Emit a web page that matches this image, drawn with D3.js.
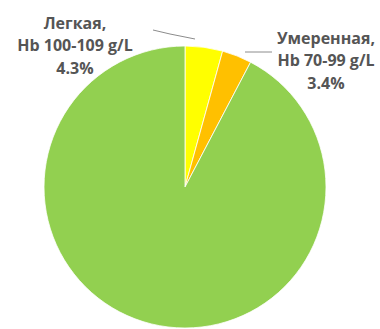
<!DOCTYPE html>
<html>
<head>
<meta charset="utf-8">
<script src="https://cdn.jsdelivr.net/npm/d3@7"></script>
<style>
  html, body { margin: 0; padding: 0; background: #fff; }
  svg { display: block; }
</style>
</head>
<body>
<svg id="chart" width="380" height="329"></svg>
<script>
// Anaemia severity shares (%)
const categories = ["Легкая", "Умеренная", "Норма"];
const ranges = ["Hb 100-109 g/L", "Hb 70-99 g/L", ""];
const values = [4.3, 3.4, 92.3];
const colors = ["#FFFF00", "#FFC000", "#92D050"];

const svg = d3.select("#chart");
const cx = 185, cy = 187, r = 141;

const pie = d3.pie().sort(null).value(d => d.value);
const arc = d3.arc().innerRadius(0).outerRadius(r);

const data = categories.map((c, i) => ({ name: c, range: ranges[i], value: values[i], color: colors[i] }));
const arcs = pie(data);

const g = svg.append("g").attr("transform", `translate(${cx},${cy})`);

g.selectAll("path")
  .data(arcs)
  .join("path")
  .attr("d", arc)
  .attr("fill", d => d.data.color)
  .attr("stroke", "#ffffff")
  .attr("stroke-width", 0.8);

// Label positions for the two small slices, with leader lines
const labelSpec = [
  { x: 75, y: 23, line: [[-32, -157], [-15, -153], [10, -148]] },
  { x: 326, y: 38, line: [[60, -135], [87, -135]] }
];

const lineGen = d3.line();

arcs.slice(0, 2).forEach((a, i) => {
  const s = labelSpec[i];
  g.append("path")
    .attr("d", lineGen(s.line))
    .attr("fill", "none")
    .attr("stroke", "#8c8c8c")
    .attr("stroke-width", 1);

  const t = svg.append("text")
    .attr("x", s.x)
    .attr("y", s.y)
    .attr("text-anchor", "middle")
    .attr("font-family", "Open Sans, sans-serif")
    .attr("font-weight", "bold")
    .attr("font-size", 16)
    .attr("fill", "#555555");
  const lines = [a.data.name + ",", a.data.range, d3.format(".1f")(a.data.value) + "%"];
  lines.forEach((ln, k) => {
    t.append("tspan")
      .attr("x", s.x)
      .attr("dy", k === 0 ? "0.35em" : 22.5)
      .text(ln);
  });
});
</script>
</body>
</html>
